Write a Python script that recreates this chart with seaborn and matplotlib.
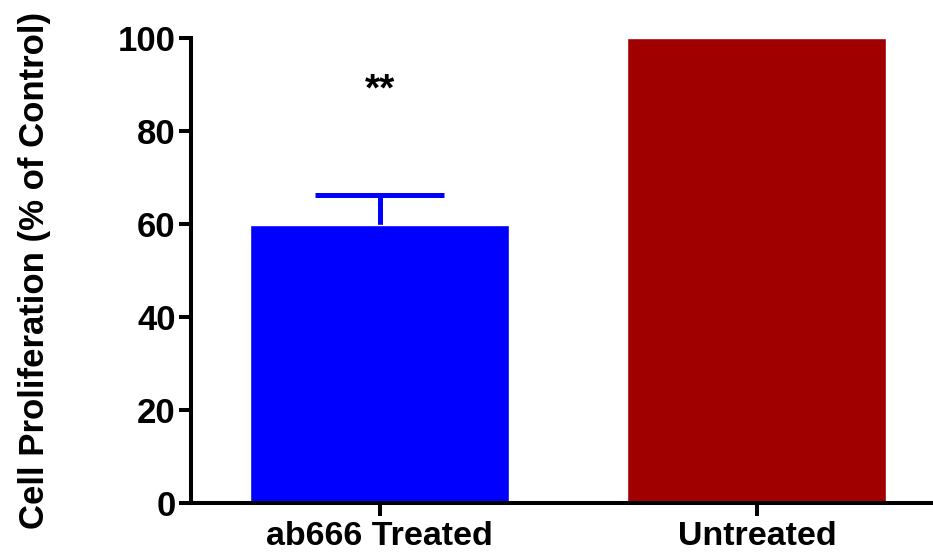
import matplotlib
matplotlib.use("Agg")
import matplotlib.pyplot as plt
import seaborn as sns
import pandas as pd

categories = ["ab666 Treated", "Untreated"]
values = [59.8, 100.0]
errors_upper = [6.4, 0.0]
colors = ["#0000FF", "#A00000"]
yticks = [0, 20, 40, 60, 80, 100]
significance = ["**", ""]

sns.set_style("ticks")
plt.rcParams['font.family'] = ['Liberation Sans', 'DejaVu Sans']
plt.rcParams['text.color'] = 'black'
plt.rcParams['xtick.color'] = 'black'
plt.rcParams['ytick.color'] = 'black'
plt.rcParams['axes.labelcolor'] = 'black'

fig = plt.figure(figsize=(9.33, 5.58), dpi=100)
ax = fig.add_axes([0.2047, 0.0986, 0.7953, 0.8333])

df = pd.DataFrame({"group": categories, "value": values})
sns.barplot(data=df, x="group", y="value", hue="group", palette=colors,
            order=categories, width=0.687, saturation=1, legend=False,
            errorbar=None, ax=ax, zorder=2)

cap_half = 0.17
for i, (v, e) in enumerate(zip(values, errors_upper)):
    if e > 0:
        ax.vlines(i, v, v + e, color=colors[i], linewidth=3.6, zorder=1)
        ax.hlines(v + e, i - cap_half, i + cap_half, color=colors[i],
                  linewidth=3.6, zorder=1)
    if significance[i]:
        ax.text(i, 88.8, significance[i], ha="center", va="center",
                fontsize=28, fontweight="bold")

ax.set_ylim(0, 100)
ax.set_xlim(-0.5, 1.467)
ax.set_yticks(yticks)
ax.set_yticklabels([str(t) for t in yticks], fontsize=25, fontweight="bold")
ax.set_xticks(range(len(categories)))
ax.set_xticklabels(categories, fontsize=24.5, fontweight="bold")
ax.set_xlabel("")
ax.set_ylabel("Cell Proliferation (% of Control)", fontsize=25, fontweight="bold", labelpad=48)

for s in ["top", "right"]:
    ax.spines[s].set_visible(False)
for s in ["left", "bottom"]:
    ax.spines[s].set_linewidth(2.9)
    ax.spines[s].set_color("black")
ax.tick_params(axis="both", width=2.9, length=9, color="black")
ax.tick_params(axis="y", pad=2)
ax.tick_params(axis="x", pad=4)
ax.spines["left"].set_zorder(5)
ax.spines["bottom"].set_zorder(5)

fig.savefig("out.png", dpi=100)
